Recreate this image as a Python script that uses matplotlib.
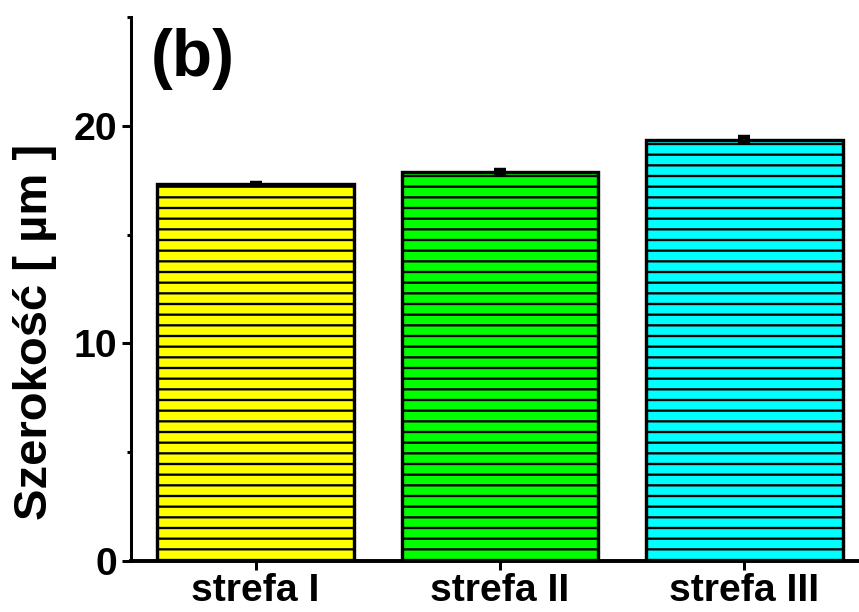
import numpy as np
import matplotlib
matplotlib.use('Agg')
import matplotlib.pyplot as plt
from matplotlib.ticker import MultipleLocator

# data
zones = ['strefa I', 'strefa II', 'strefa III']
width_um = [17.33, 17.88, 19.36]
width_err = [0.05, 0.10, 0.12]
colors = ['#FFFF00', '#00FF00', '#00FFFF']

plt.rcParams['font.family'] = ['Liberation Sans', 'DejaVu Sans']
plt.rcParams['font.weight'] = 'bold'
plt.rcParams['hatch.linewidth'] = 1.3

fig = plt.figure(figsize=(859/128, 612/128), dpi=128)
ax = fig.add_axes([0.1525, 0.0833, 0.8475, 0.8889])

x = np.arange(len(zones))
ax.bar(x, width_um, width=0.805, color=colors, edgecolor='black',
       linewidth=1.9, hatch='--', zorder=2)
ax.errorbar(x, width_um, yerr=width_err, fmt='none', ecolor='black',
            elinewidth=1.7, capsize=3.5, capthick=2.5, zorder=3)

ax.set_xlim(-0.51, 2.47)
ax.set_ylim(0, 25)
ax.set_xticks(x)
ax.set_xticklabels(zones, fontsize=22, fontweight='bold')
ax.yaxis.set_major_locator(MultipleLocator(10))
ax.yaxis.set_minor_locator(MultipleLocator(5))
ax.tick_params(axis='y', which='major', length=5, width=1.7, labelsize=22, pad=3)
ax.tick_params(axis='y', which='minor', length=2.5, width=1.7)
ax.tick_params(axis='x', which='major', length=5, width=1.7, pad=2)
for lab in ax.get_yticklabels():
    lab.set_fontweight('bold')

ax.spines['top'].set_visible(False)
ax.spines['right'].set_visible(False)
ax.spines['left'].set_linewidth(1.7)
ax.spines['bottom'].set_linewidth(2.2)

ax.set_ylabel('Szerokość [ µm ]', fontsize=26.5, fontweight='bold')
ax.yaxis.set_label_coords(-0.102, 0.421)
ax.text(0.027, 0.98, '(b)', transform=ax.transAxes, fontsize=37,
        fontweight='bold', va='top', ha='left')

fig.savefig('out.png', dpi=128)
